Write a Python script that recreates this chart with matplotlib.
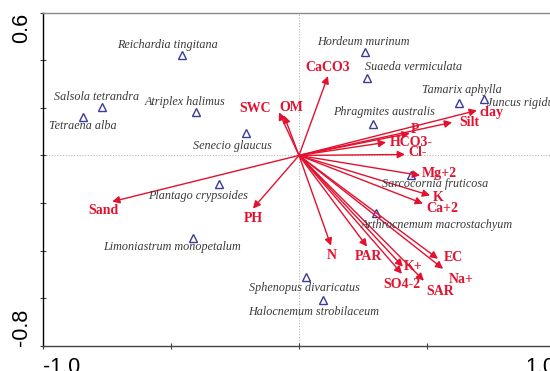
import matplotlib
matplotlib.use("Agg")
import matplotlib.pyplot as plt

# Species scores (triangles)
species = ["Reichardia tingitana", "Salsola tetrandra", "Tetraena alba",
           "Atriplex halimus", "Senecio glaucus", "Plantago crypsoides",
           "Limoniastrum monopetalum", "Hordeum murinum", "Suaeda vermiculata",
           "Tamarix aphylla", "Juncus rigidus", "Phragmites australis",
           "Sarcocornia fruticosa", "Arthrocnemum macrostachyum",
           "Sphenopus divaricatus", "Halocnemum strobilaceum"]
sp_x = [-0.457, -0.770, -0.844, -0.402, -0.207, -0.313, -0.414, 0.258,
        0.266, 0.625, 0.723, 0.289, 0.438, 0.301, 0.027, 0.094]
sp_y = [0.421, 0.202, 0.160, 0.181, 0.093, -0.122, -0.345, 0.434,
        0.324, 0.219, 0.236, 0.131, -0.084, -0.240, -0.509, -0.606]

# Environmental variable scores (arrow tips)
env = ["CaCO3", "SWC", "OM", "clay", "Silt", "P", "HCO3-", "Cl-", "Mg+2",
       "K", "Ca+2", "N", "PAR", "K+", "SO4-2", "SAR", "EC", "Na+", "Sand", "PH"]
env_x = [0.113, -0.078, -0.059, 0.695, 0.598, 0.433, 0.340, 0.414, 0.473,
         0.512, 0.484, 0.125, 0.266, 0.406, 0.402, 0.488, 0.543, 0.563,
         -0.730, -0.180]
env_y = [0.333, 0.181, 0.168, 0.189, 0.139, 0.093, 0.055, 0.004, -0.084,
         -0.168, -0.202, -0.379, -0.383, -0.467, -0.497, -0.526, -0.434,
         -0.476, -0.194, -0.223]

# label offsets in pixels (dx, dy, ha)
sp_off = {"Reichardia tingitana": (-15, 10, "center"),
          "Salsola tetrandra": (-5, 10, "center"),
          "Tetraena alba": (0, -9, "center"),
          "Atriplex halimus": (-11, 10, "center"),
          "Senecio glaucus": (-14, -13, "center"),
          "Plantago crypsoides": (-21, -12, "center"),
          "Limoniastrum monopetalum": (-21, -9, "center"),
          "Hordeum murinum": (-2, 10, "center"),
          "Suaeda vermiculata": (-2, 11, "left"),
          "Tamarix aphylla": (3, 13, "center"),
          "Juncus rigidus": (3, -4, "left"),
          "Phragmites australis": (11, 12, "center"),
          "Sarcocornia fruticosa": (24, -9, "center"),
          "Arthrocnemum macrostachyum": (61, -12, "center"),
          "Sphenopus divaricatus": (-1, -11, "center"),
          "Halocnemum strobilaceum": (-9, -12, "center")}
env_off = {"CaCO3": (0, 9), "SWC": (-24, 4), "OM": (7, 8), "clay": (15, -2),
           "Silt": (17, 0), "P": (5, 4), "HCO3-": (25, 0), "Cl-": (13, 2),
           "Mg+2": (19, 2), "K": (8, -2), "Ca+2": (19, -5), "N": (1, -10),
           "PAR": (1, -10), "K+": (10, 0), "SO4-2": (0, -11), "SAR": (16, -11),
           "EC": (15, 1), "Na+": (18, -11), "Sand": (-9, -9), "PH": (0, -10)}

red = "#e3112e"
navy = "#3b3b98"
px = 72 / 100  # pixels -> points

fig = plt.figure(figsize=(5.5, 3.71), dpi=100)
ax = fig.add_axes([43 / 550, 25 / 371, 512 / 550, 333.5 / 371])
ax.set_xlim(-1.0, 1.0)
ax.set_ylim(-0.8, 0.6)

# zero lines
ax.axhline(0, color="#b5b5b5", lw=0.8, ls=(0, (1, 1.5)), zorder=0)
ax.axvline(0, color="#b5b5b5", lw=0.8, ls=(0, (1, 1.5)), zorder=0)

# arrows
for name, x, y in zip(env, env_x, env_y):
    ax.annotate("", xy=(x, y), xytext=(0, 0),
                arrowprops=dict(arrowstyle="-|>", color=red, lw=1.0,
                                mutation_scale=11, shrinkA=0, shrinkB=0))
    dx, dy = env_off[name]
    ax.annotate(name, (x, y), xytext=(dx * px, dy * px), textcoords="offset points",
                ha="center", va="center", color=red, fontsize=10,
                fontweight="bold", family="Liberation Serif")

# species
ax.plot(sp_x, sp_y, ls="none", marker="^", ms=6, mfc="none", mec=navy, mew=1.0)
for name, x, y in zip(species, sp_x, sp_y):
    dx, dy, ha = sp_off[name]
    ax.annotate(name, (x, y), xytext=(dx * px, dy * px), textcoords="offset points",
                ha=ha, va="center", color="#3a3a3a", fontsize=8.7,
                style="italic", family="Liberation Serif")

# axes styling
ax.set_xticks([-1.0, -0.5, 0.0, 0.5, 1.0])
ax.set_xticklabels(["-1.0", "", "", "", "1.0"])
ax.set_yticks([-0.8, -0.6, -0.4, -0.2, 0.0, 0.2, 0.4, 0.6])
ax.set_yticklabels(["-0.8", "", "", "", "", "", "", "0.6"])
ax.tick_params(direction="inout", length=4, width=0.8, color="#444444",
               labelsize=15.5, pad=6)
for lab in ax.get_xticklabels():
    lab.set_family("Liberation Sans")
ax.get_xticklabels()[0].set_ha("left")
ax.get_xticklabels()[-1].set_ha("right")
for lab in ax.get_yticklabels():
    lab.set_family("Liberation Sans")
    lab.set_rotation(90)
ax.get_yticklabels()[0].set_va("bottom")
ax.get_yticklabels()[-1].set_va("top")

ax.spines["left"].set_color("black")
ax.spines["bottom"].set_color("#444444")
ax.spines["top"].set_color("#8a8a8a")
ax.spines["right"].set_visible(False)
for s in ax.spines.values():
    s.set_linewidth(1.0)

fig.savefig("out.png", dpi=100)
